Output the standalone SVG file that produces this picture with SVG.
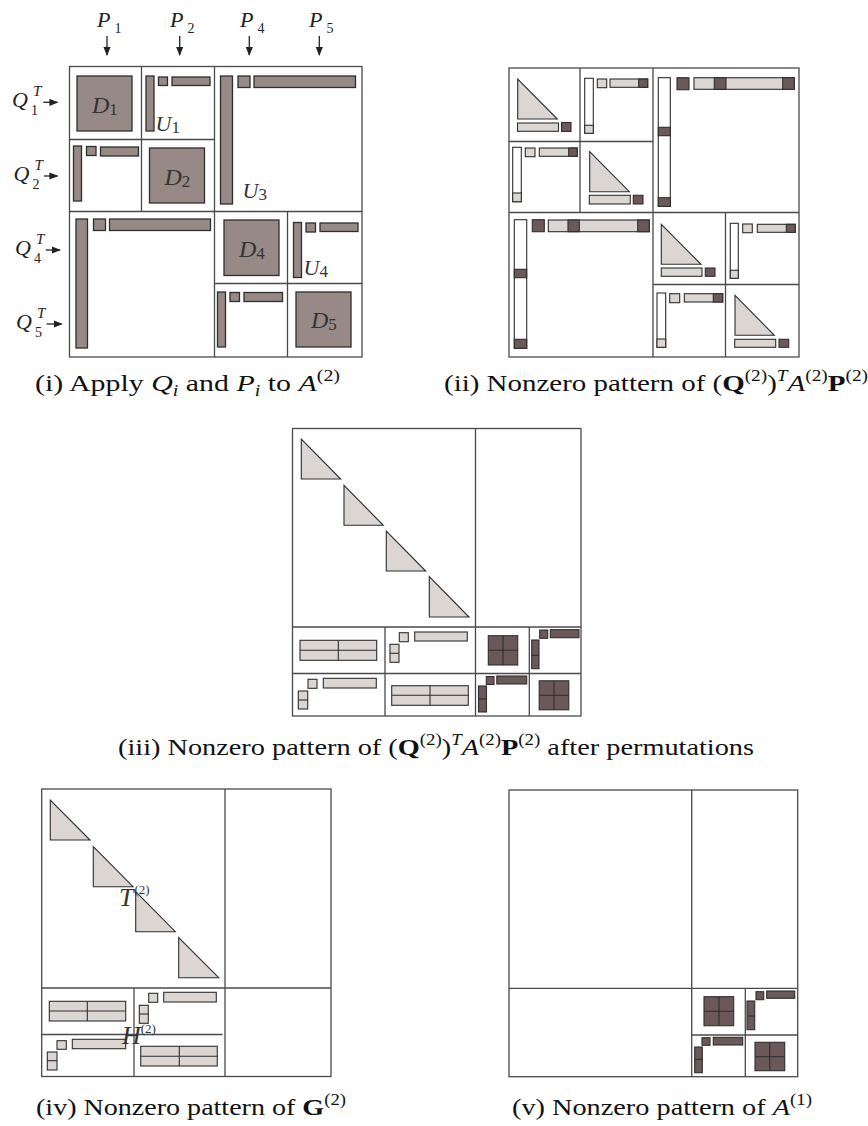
<svg xmlns="http://www.w3.org/2000/svg" width="868" height="1126" viewBox="0 0 868 1126">
<defs>
<style>
.grid{fill:none;stroke:#4a4a4a;stroke-width:1.3}
.br{fill:#978985;stroke:#2e2e2e;stroke-width:1.3}
.lt{fill:#dcd6d2;stroke:#2e2e2e;stroke-width:1.1}
.dk{fill:#6b5959;stroke:#2e2e2e;stroke-width:1.1}
.wh{fill:#ffffff;stroke:#2e2e2e;stroke-width:1.1}
.ln{fill:none;stroke:#2e2e2e;stroke-width:1.1}
.lbl{font-family:"Liberation Serif",serif;font-style:italic;font-size:22px;fill:#333333}
.dl{font-size:24px}
.sub{font-family:"Liberation Serif",serif;font-style:normal;font-size:17px}
.sup{font-family:"Liberation Serif",serif;font-style:italic;font-size:15px}
.cap{font-family:"Liberation Serif",serif;font-size:24px;fill:#111}
.it{font-style:italic}
.bf{font-weight:bold}
.sm{font-size:16px}
.arr{stroke:#222;stroke-width:1.3;fill:none}
</style>
<marker id="ah" viewBox="0 0 10 10" refX="9" refY="5" markerWidth="9" markerHeight="9" markerUnits="userSpaceOnUse" orient="auto">
<path d="M0,1 L10,5 L0,9 Z" fill="#222"/>
</marker>
</defs>
<rect width="868" height="1126" fill="#ffffff"/>

<!-- Panel (i) -->
<g id="panel-i">
<rect class="grid" x="69.5" y="66.5" width="292.5" height="290.5"/>
<path class="grid" d="M214.5,66.5V357 M69.5,211.5H362 M141.5,66.5V211.5 M69.5,139.5H214.5 M287.5,211.5V357 M214.5,283.5H362"/>
<g id="D1"><rect class="br" x="77" y="76" width="55" height="55"/>
<text class="lbl dl" x="92" y="113">D<tspan class="sub" dy="2">1</tspan></text></g>
<g id="U1"><rect class="br" x="146" y="76" width="8" height="55"/><rect class="br" x="158.5" y="77" width="9" height="8.5"/><rect class="br" x="172" y="77" width="38" height="8.5"/>
<text class="lbl" x="155.5" y="131">U<tspan class="sub" dy="2">1</tspan></text></g>
<g id="L21"><rect class="br" x="73.5" y="146" width="8" height="55"/><rect class="br" x="86.5" y="146.5" width="9.5" height="9"/><rect class="br" x="100.5" y="147" width="38" height="9"/></g>
<g id="D2"><rect class="br" x="149.5" y="148" width="55" height="55"/>
<text class="lbl dl" x="164.5" y="185">D<tspan class="sub" dy="2">2</tspan></text></g>
<g id="U3"><rect class="br" x="220.5" y="76" width="12" height="128"/><rect class="br" x="238" y="76" width="12" height="11.5"/><rect class="br" x="254" y="76" width="101.5" height="11.5"/>
<text class="lbl" x="242.5" y="198">U<tspan class="sub" dy="2">3</tspan></text></g>
<g id="L43"><rect class="br" x="76" y="219" width="11.5" height="129"/><rect class="br" x="93.5" y="219" width="12" height="11.5"/><rect class="br" x="109.5" y="219" width="101" height="11.5"/></g>
<g id="D4"><rect class="br" x="224" y="220" width="55" height="55.5"/>
<text class="lbl dl" x="239" y="257">D<tspan class="sub" dy="2">4</tspan></text></g>
<g id="U4"><rect class="br" x="293.5" y="222.5" width="8" height="55"/><rect class="br" x="306" y="223" width="9.5" height="9"/><rect class="br" x="320" y="223" width="38" height="8.5"/>
<text class="lbl" x="303.5" y="275">U<tspan class="sub" dy="2">4</tspan></text></g>
<g id="L54"><rect class="br" x="217.5" y="292" width="8" height="55"/><rect class="br" x="230" y="292.5" width="9.5" height="9"/><rect class="br" x="244" y="292.5" width="38.5" height="9"/></g>
<g id="D5"><rect class="br" x="296" y="292" width="55" height="55"/>
<text class="lbl dl" x="311" y="328">D<tspan class="sub" dy="2">5</tspan></text></g>
<g id="P-labels" class="lbl" style="fill:#222">
<text x="97" y="27">P<tspan class="sub" dx="4" dy="6" style="font-size:14px">1</tspan></text>
<text x="170" y="27">P<tspan class="sub" dx="4" dy="6" style="font-size:14px">2</tspan></text>
<text x="240" y="27">P<tspan class="sub" dx="4" dy="6" style="font-size:14px">4</tspan></text>
<text x="309" y="27">P<tspan class="sub" dx="4" dy="6" style="font-size:14px">5</tspan></text>
</g>
<g id="Q-labels" class="lbl" style="fill:#222">
<text x="12" y="107">Q<tspan class="sup" x="33" y="96">T</tspan><tspan class="sub" x="31" y="115" style="font-size:14px">1</tspan></text>
<text x="13.5" y="181">Q<tspan class="sup" x="34.5" y="170">T</tspan><tspan class="sub" x="32.5" y="189" style="font-size:14px">2</tspan></text>
<text x="15" y="255">Q<tspan class="sup" x="36" y="244">T</tspan><tspan class="sub" x="34" y="263" style="font-size:14px">4</tspan></text>
<text x="16" y="329">Q<tspan class="sup" x="37" y="318">T</tspan><tspan class="sub" x="35" y="337" style="font-size:14px">5</tspan></text>
</g>
</g>

<!-- Panel (ii) -->
<g id="panel-ii">
<rect class="grid" x="509" y="68" width="290" height="289"/>
<path class="grid" d="M653,68V357 M509,212.5H799 M580,68V212.5 M509,141.5H653 M725.5,212.5V357 M653,284.5H799"/>
<g id="B11"><path class="lt" d="M517.7,79V119H557.3Z"/><rect class="lt" x="517.5" y="123" width="41" height="8.3"/><rect class="dk" x="561.5" y="122.5" width="9.5" height="9"/></g>
<g id="B12"><rect class="wh" x="584.7" y="78.3" width="8.6" height="55"/><rect class="lt" x="584.7" y="125.3" width="8.6" height="8"/><rect class="lt" x="597.3" y="79" width="9.4" height="8.7"/><rect class="lt" x="610" y="79" width="37.7" height="8.3"/><rect class="dk" x="638.7" y="79" width="9" height="8.3"/></g>
<g id="B21"><rect class="wh" x="512.7" y="147.3" width="8.6" height="54.4"/><rect class="lt" x="512.7" y="193" width="8.6" height="8.7"/><rect class="lt" x="525.3" y="148" width="9.7" height="8.7"/><rect class="lt" x="539.3" y="148" width="38" height="8.3"/><rect class="dk" x="568.7" y="148" width="8.6" height="8.3"/></g>
<g id="B22"><path class="lt" d="M589.7,151.7V191.7H629.3Z"/><rect class="lt" x="589.3" y="195.3" width="41" height="8.7"/><rect class="dk" x="633.3" y="195.3" width="9.7" height="8.7"/></g>
<g id="B1R"><rect class="wh" x="658.3" y="77.7" width="12" height="128.6"/><rect class="dk" x="658.3" y="127.3" width="12" height="8.4"/><rect class="dk" x="658.3" y="197.7" width="12" height="8.6"/><rect class="dk" x="677" y="77.7" width="12" height="12"/><rect class="lt" x="694" y="77.7" width="100.3" height="11.6"/><rect class="dk" x="714.3" y="77.7" width="11.7" height="11.6"/><rect class="dk" x="782.7" y="77.7" width="11.6" height="11.6"/></g>
<g id="BL2"><rect class="wh" x="514.3" y="219.7" width="12.4" height="128.6"/><rect class="dk" x="514.3" y="269.3" width="12.4" height="8.4"/><rect class="dk" x="514.3" y="339.3" width="12.4" height="9"/><rect class="dk" x="532.3" y="219.7" width="12" height="12"/><rect class="lt" x="548.3" y="220" width="101" height="11.7"/><rect class="dk" x="568" y="220" width="11.3" height="11.7"/><rect class="dk" x="637.7" y="220" width="11.6" height="11.7"/></g>
<g id="B33"><path class="lt" d="M661.3,224.3V264.3H701Z"/><rect class="lt" x="661.3" y="268" width="40.7" height="8.3"/><rect class="dk" x="705.3" y="268" width="9.7" height="8.3"/></g>
<g id="B34"><rect class="wh" x="730.3" y="223.3" width="8" height="55"/><rect class="lt" x="730.3" y="270.3" width="8" height="8"/><rect class="lt" x="742.7" y="224" width="9.6" height="8.7"/><rect class="lt" x="757.3" y="224.3" width="38" height="8"/><rect class="dk" x="786.3" y="224.3" width="9" height="8"/></g>
<g id="B43"><rect class="wh" x="657" y="293" width="8.7" height="54.3"/><rect class="lt" x="657" y="339" width="8.7" height="8.3"/><rect class="lt" x="669.7" y="293.7" width="10" height="9"/><rect class="lt" x="684.3" y="293.7" width="38.4" height="8.3"/><rect class="dk" x="713.3" y="293.7" width="9.4" height="8.3"/></g>
<g id="B44"><path class="lt" d="M735,295.3V335.3H774.3Z"/><rect class="lt" x="734.7" y="339.3" width="41" height="8"/><rect class="dk" x="779" y="339.3" width="9.7" height="8"/></g>
</g>

<!-- Panel (iii) -->
<g id="panel-iii">
<rect class="grid" x="292.5" y="428.5" width="288.5" height="287.5"/>
<path class="grid" d="M475.5,428.5V716 M292.5,627H581 M385,627V716 M292.5,673.5H581 M529.3,627V716"/>
<g id="T3"><path class="lt" d="M301.3,439V479H340.7Z"/><path class="lt" d="M344,485.3V525.3H383.3Z"/><path class="lt" d="M386.3,531V571H425.7Z"/><path class="lt" d="M429.3,576.7V617H469Z"/></g>
<g id="iiiAA"><rect class="lt" x="300" y="640.3" width="76.7" height="20"/><path class="ln" d="M338.3,640.3V660.3 M300,650.3H376.7"/></g>
<g id="iiiAB"><rect class="lt" x="399.3" y="632.7" width="9" height="9"/><rect class="lt" x="414.7" y="632" width="52.6" height="9"/><rect class="lt" x="390" y="644.3" width="9" height="18"/><path class="ln" d="M390,653.3H399"/></g>
<g id="iiiAC"><rect class="dk" x="488.3" y="635.7" width="29.4" height="29.3"/><path class="ln" d="M503,635.7V665 M488.3,650.3H517.7"/></g>
<g id="iiiAD"><rect class="dk" x="539.7" y="630" width="8" height="8.3"/><rect class="dk" x="550.3" y="629.7" width="28.7" height="8"/><rect class="dk" x="531.7" y="640" width="7.3" height="28.7"/><path class="ln" d="M531.7,655.3H539"/></g>
<g id="iiiBA"><rect class="lt" x="308" y="679.3" width="9" height="9"/><rect class="lt" x="323.3" y="678.3" width="53" height="9.7"/><rect class="lt" x="298.3" y="691" width="9.4" height="18"/><path class="ln" d="M298.3,700H307.7"/></g>
<g id="iiiBB"><rect class="lt" x="391.7" y="685.7" width="76.6" height="19.6"/><path class="ln" d="M430,685.7V705.3 M391.7,695.3H468.3"/></g>
<g id="iiiBC"><rect class="dk" x="486.3" y="676.5" width="7.7" height="8"/><rect class="dk" x="496.8" y="676" width="29.9" height="8"/><rect class="dk" x="478.5" y="686" width="8" height="26"/><path class="ln" d="M478.5,699H486.5"/></g>
<g id="iiiBD"><rect class="dk" x="539.2" y="680.8" width="29.6" height="29"/><path class="ln" d="M554,680.8V709.8 M539.2,695.3H568.8"/></g>
</g>

<!-- Panel (iv) -->
<g id="panel-iv">
<rect class="grid" x="41.7" y="789" width="289.3" height="287.5"/>
<path class="grid" d="M225,789V1076.5 M41.7,988H331 M134,988V1076.5 M41.7,1034.5H222.5"/>
<g id="T4"><path class="lt" d="M50.3,800V840H90Z"/><path class="lt" d="M93.3,846.7V886.7H133Z"/><path class="lt" d="M135.7,891.7V931.7H175.3Z"/><path class="lt" d="M178.7,937.7V977.7H218.7Z"/></g>
<g id="ivAA"><rect class="lt" x="49.3" y="1001.3" width="76.4" height="19.7"/><path class="ln" d="M87.3,1001.3V1021 M49.3,1011H125.7"/></g>
<g id="ivAB"><rect class="lt" x="148.7" y="993.3" width="9" height="9"/><rect class="lt" x="163.7" y="992.3" width="52.6" height="9.7"/><rect class="lt" x="139.3" y="1005.3" width="9" height="18"/><path class="ln" d="M139.3,1014H148.3"/></g>
<g id="ivBA"><rect class="lt" x="57" y="1040.7" width="9.3" height="8.6"/><rect class="lt" x="72.3" y="1039.3" width="53.4" height="9.4"/><rect class="lt" x="47.3" y="1052" width="9.7" height="18"/><path class="ln" d="M47.3,1060.7H57"/></g>
<g id="ivBB"><rect class="lt" x="140.7" y="1046.3" width="76.6" height="19.7"/><path class="ln" d="M179.3,1046.3V1066 M140.7,1056.3H217.3"/></g>
<text class="lbl" x="119" y="905.5" style="font-size:26px;fill:#333">T<tspan class="sub" dy="-12" dx="1" style="font-size:13px">(2)</tspan></text>
<text class="lbl" x="122" y="1044" style="font-size:26px;fill:#333">H<tspan class="sub" dy="-11" dx="0" style="font-size:13px">(2)</tspan></text>
</g>

<!-- Panel (v) -->
<g id="panel-v">
<rect class="grid" x="509" y="790" width="288.7" height="286.7"/>
<path class="grid" d="M691.7,790V1076.7 M509,988.3H797.7 M745.3,988.3V1076.7 M691.7,1035H797.7"/>
<g id="vAC"><rect class="dk" x="704" y="996.7" width="29.7" height="29"/><path class="ln" d="M719,996.7V1025.7 M704,1011.3H733.7"/></g>
<g id="vAD"><rect class="dk" x="756" y="991.7" width="7.7" height="8"/><rect class="dk" x="766.7" y="991" width="28" height="7.3"/><rect class="dk" x="747" y="1001" width="7.7" height="28.7"/><path class="ln" d="M747,1016H754.7"/></g>
<g id="vBC"><rect class="dk" x="702" y="1037.7" width="8" height="7.6"/><rect class="dk" x="713.3" y="1037.3" width="29.4" height="7.7"/><rect class="dk" x="694.7" y="1047" width="7.6" height="25.7"/><path class="ln" d="M694.7,1059.3H702.3"/></g>
<g id="vBD"><rect class="dk" x="755" y="1042.3" width="29.7" height="28.4"/><path class="ln" d="M769.7,1042.3V1070.7 M755,1056.7H784.7"/></g>
</g>

<!-- Connectors -->
<g id="connectors" class="arr">
<path d="M107,36V55" marker-end="url(#ah)"/>
<path d="M179.7,36V55" marker-end="url(#ah)"/>
<path d="M249.3,36V55" marker-end="url(#ah)"/>
<path d="M319.3,36V55" marker-end="url(#ah)"/>
<path d="M43.3,102.3H57.5" marker-end="url(#ah)"/>
<path d="M44,176H57.5" marker-end="url(#ah)"/>
<path d="M45.7,250H60" marker-end="url(#ah)"/>
<path d="M46.7,324H61.7" marker-end="url(#ah)"/>
</g>

<!-- Captions -->
<g id="captions" class="cap">
<text x="35" y="391" textLength="305" lengthAdjust="spacingAndGlyphs">(i) Apply <tspan class="it">Q</tspan><tspan class="it sm" dy="5">i</tspan><tspan dy="-5"> and </tspan><tspan class="it">P</tspan><tspan class="it sm" dy="5">i</tspan><tspan dy="-5"> to </tspan><tspan class="it">A</tspan><tspan class="sm" dy="-10">(2)</tspan></text>
<text x="444" y="391" textLength="424" lengthAdjust="spacingAndGlyphs">(ii) Nonzero pattern of (<tspan class="bf">Q</tspan><tspan class="sm" dy="-10">(2)</tspan><tspan dy="10">)</tspan><tspan class="it sm" dy="-10">T</tspan><tspan class="it" dy="10">A</tspan><tspan class="sm" dy="-10">(2)</tspan><tspan class="bf" dy="10">P</tspan><tspan class="sm" dy="-10">(2)</tspan></text>
<text x="118" y="755" textLength="636" lengthAdjust="spacingAndGlyphs">(iii) Nonzero pattern of (<tspan class="bf">Q</tspan><tspan class="sm" dy="-10">(2)</tspan><tspan dy="10">)</tspan><tspan class="it sm" dy="-10">T</tspan><tspan class="it" dy="10">A</tspan><tspan class="sm" dy="-10">(2)</tspan><tspan class="bf" dy="10">P</tspan><tspan class="sm" dy="-10">(2)</tspan><tspan dy="10"> after permutations</tspan></text>
<text x="36" y="1115" textLength="310" lengthAdjust="spacingAndGlyphs">(iv) Nonzero pattern of <tspan class="bf">G</tspan><tspan class="sm" dy="-10">(2)</tspan></text>
<text x="512" y="1115" textLength="300" lengthAdjust="spacingAndGlyphs">(v) Nonzero pattern of <tspan class="it">A</tspan><tspan class="sm" dy="-10">(1)</tspan></text>
</g>
</svg>
